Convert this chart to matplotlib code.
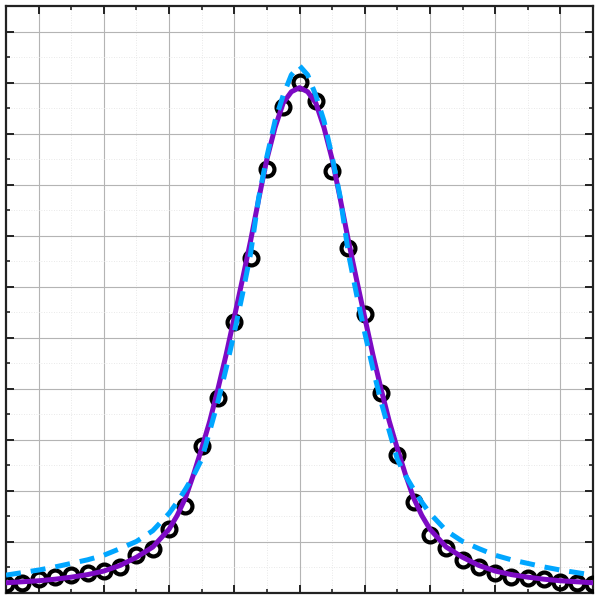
import numpy as np
import matplotlib
matplotlib.use("Agg")
import matplotlib.pyplot as plt
from matplotlib.ticker import MultipleLocator

# measured points (x step 0.25, symmetric range)
x_data = [-4.5, -4.25, -4.0, -3.75, -3.5, -3.25, -3.0, -2.75, -2.5, -2.25,
          -2.0, -1.75, -1.5, -1.25, -1.0, -0.75, -0.5, -0.25, 0.0,
          0.25, 0.5, 0.75, 1.0, 1.25, 1.5, 1.75, 2.0, 2.25, 2.5,
          2.75, 3.0, 3.25, 3.5, 3.75, 4.0, 4.25, 4.5]
y_data = [0.018, 0.020, 0.027, 0.031, 0.035, 0.039, 0.043, 0.051, 0.075, 0.086,
          0.125, 0.171, 0.288, 0.382, 0.531, 0.657, 0.831, 0.953, 1.002,
          0.963, 0.827, 0.675, 0.547, 0.392, 0.271, 0.178, 0.114, 0.088, 0.065,
          0.051, 0.039, 0.031, 0.029, 0.027, 0.022, 0.020, 0.018]

# fitted curves (right half, mirrored below)
x_half = [0.0, 0.125, 0.25, 0.375, 0.5, 0.625, 0.75, 0.875, 1.0, 1.125, 1.25,
          1.375, 1.5, 1.625, 1.75, 1.875, 2.0, 2.25, 2.5, 2.75, 3.0, 3.25,
          3.5, 3.75, 4.0, 4.25, 4.5]
purple_half = [0.990, 0.982, 0.960, 0.912, 0.850, 0.772, 0.690, 0.614, 0.540,
               0.467, 0.400, 0.337, 0.283, 0.232, 0.186, 0.152, 0.125, 0.090,
               0.070, 0.054, 0.043, 0.036, 0.031, 0.027, 0.024, 0.022, 0.020]
blue_half = [1.033, 1.015, 0.975, 0.925, 0.855, 0.775, 0.665, 0.585, 0.510,
             0.440, 0.375, 0.318, 0.262, 0.230, 0.203, 0.178, 0.156, 0.122,
             0.101, 0.087, 0.074, 0.065, 0.058, 0.051, 0.045, 0.040, 0.035]

x_fit = [-v for v in x_half[:0:-1]] + x_half
purple_fit = purple_half[:0:-1] + purple_half
blue_fit = blue_half[:0:-1] + blue_half

fig = plt.figure(figsize=(6, 6), dpi=100)
ax = fig.add_axes([6 / 600, 7 / 600, 587 / 600, 587 / 600])

ax.plot(x_data, y_data, 'o', mfc='none', mec='black', ms=10, mew=3.0, zorder=3)
ax.plot(x_fit, purple_fit, '-', color='#7d0ac4', lw=3.6, zorder=4)
ax.plot(x_fit, blue_fit, '--', color='#00a6ff', lw=3.6, dashes=(3.0, 2.0), zorder=5)

ax.set_xlim(-4.5, 4.5)
ax.set_ylim(0, 1.15)
ax.xaxis.set_major_locator(MultipleLocator(1))
ax.xaxis.set_minor_locator(MultipleLocator(0.5))
ax.yaxis.set_major_locator(MultipleLocator(0.1))
ax.yaxis.set_minor_locator(MultipleLocator(0.05))

ax.grid(which='major', color='#b4b4b4', lw=0.8)
ax.grid(which='minor', color='#e2e2e2', lw=0.6, ls=(0, (1, 2)))
ax.set_axisbelow(True)

ax.tick_params(which='both', direction='in', top=True, right=True,
               labelbottom=False, labelleft=False, colors='#222222')
ax.tick_params(which='major', length=6, width=1.4)
ax.tick_params(which='minor', length=3, width=1.2)
for s in ax.spines.values():
    s.set_linewidth(1.6)
    s.set_color('#222222')

fig.savefig('out.png', dpi=100)
